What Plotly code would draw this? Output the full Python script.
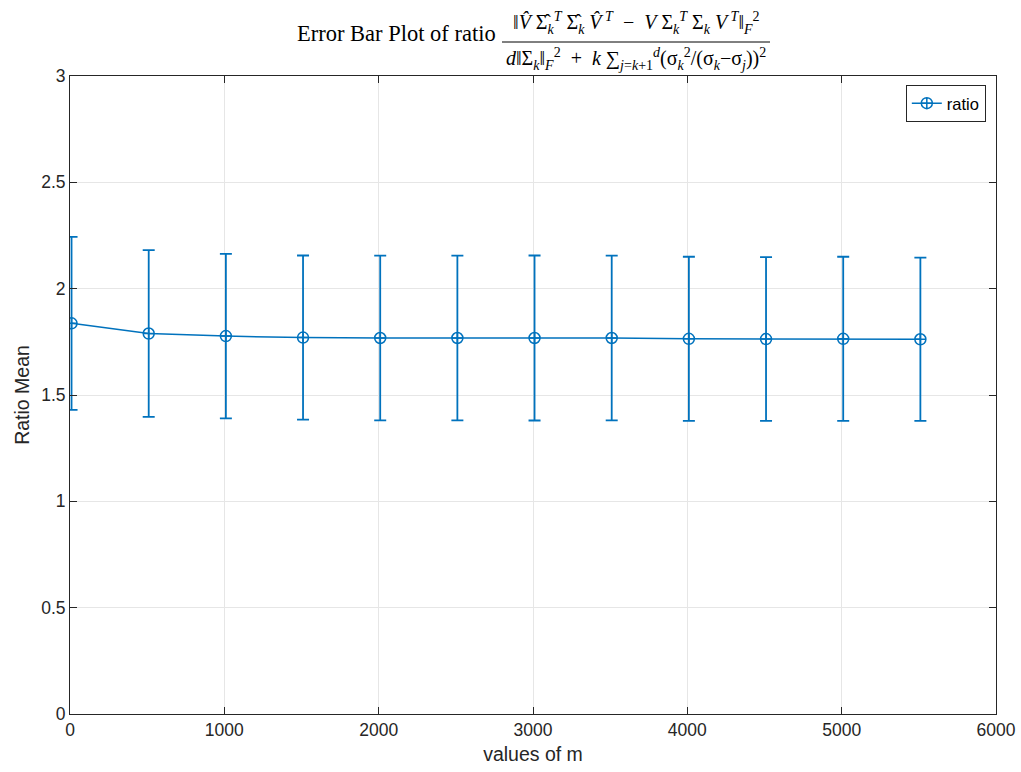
import plotly.graph_objects as go

m_values = [10, 510, 1010, 1510, 2010, 2510, 3010, 3510, 4010, 4510, 5010, 5510]
ratio_mean = [1.837, 1.789, 1.777, 1.770, 1.768, 1.768, 1.768, 1.768, 1.764, 1.763, 1.764, 1.762]
ratio_err = [0.407, 0.392, 0.387, 0.386, 0.387, 0.387, 0.388, 0.387, 0.386, 0.385, 0.386, 0.384]

x_ticks = [0, 1000, 2000, 3000, 4000, 5000, 6000]
y_ticks = [0, 0.5, 1, 1.5, 2, 2.5, 3]
y_tick_labels = ["0", "0.5", "1", "1.5", "2", "2.5", "3"]

blue = "#0072BD"
axis_col = "#262626"
grid_col = "#e6e6e6"
sans = "Liberation Sans, Arial, sans-serif"
serif = "Liberation Serif, DejaVu Serif, serif"

fig = go.Figure()
fig.add_trace(go.Scatter(
    x=m_values, y=ratio_mean, mode="lines+markers", name="ratio",
    line=dict(color=blue, width=1.5),
    marker=dict(symbol="circle-cross-open", size=11, color=blue, line=dict(width=1.5, color=blue)),
    error_y=dict(type="data", array=ratio_err, visible=True, color=blue, thickness=1.8, width=6),
))

axis_common = dict(
    showline=True, linecolor=axis_col, linewidth=1, mirror="ticks",
    ticks="inside", ticklen=7, tickcolor=axis_col,
    showgrid=True, gridcolor=grid_col, gridwidth=1, zeroline=False,
    tickfont=dict(family=sans, size=17.5, color=axis_col),
    automargin=False,
)

fig.update_xaxes(range=[0, 6000], tickvals=x_ticks, ticktext=[str(t) for t in x_ticks],
                 title=dict(text="values of m", font=dict(family=sans, size=19.5, color=axis_col), standoff=8),
                 **axis_common)
fig.update_yaxes(range=[0, 3], tickvals=y_ticks, ticktext=y_tick_labels,
                 title=dict(text="Ratio Mean", font=dict(family=sans, size=19.5, color=axis_col), standoff=6),
                 **axis_common)

num = ("‖<i>V̂</i> Σ̂<sub><i>k</i></sub><sup><i>T</i></sup> Σ̂<sub><i>k</i></sub> <i>V̂</i><sup> <i>T</i></sup>"
       "  −  <i>V</i> Σ<sub><i>k</i></sub><sup><i>T</i></sup> Σ<sub><i>k</i></sub> <i>V</i><sup> <i>T</i></sup>‖<sub><i>F</i></sub><sup>2</sup>")
den = ("<i>d</i>‖Σ<sub><i>k</i></sub>‖<sub><i>F</i></sub><sup>2</sup>  +  <i>k</i> ∑<sub><i>j</i>=<i>k</i>+1</sub><sup><i>d</i></sup>"
       "(σ<sub><i>k</i></sub><sup>2</sup>/(σ<sub><i>k</i></sub>−σ<sub><i>j</i></sub>))<sup>2</sup>")

fig.add_annotation(text="Error Bar Plot of ratio", xref="paper", yref="paper",
                   x=(498 - 70) / 926, y=(714 - 34) / 638, xanchor="right", yanchor="middle",
                   showarrow=False, font=dict(family=serif, size=22.5, color="black"))
fig.add_annotation(text=num, xref="paper", yref="paper",
                   x=(636 - 70) / 926, y=(714 - 39) / 638, xanchor="center", yanchor="bottom",
                   showarrow=False, font=dict(family=serif, size=20, color="black"))
fig.add_annotation(text=den, xref="paper", yref="paper",
                   x=(636 - 70) / 926, y=(714 - 43) / 638, xanchor="center", yanchor="top",
                   showarrow=False, font=dict(family=serif, size=20, color="black"))
fig.add_shape(type="line", xref="paper", yref="paper",
              x0=(502 - 70) / 926, x1=(770 - 70) / 926, y0=(714 - 42) / 638, y1=(714 - 42) / 638,
              line=dict(color="black", width=1))

fig.update_layout(
    width=1021, height=772,
    margin=dict(l=70, r=25, t=76, b=58),
    paper_bgcolor="white", plot_bgcolor="white",
    showlegend=True,
    legend=dict(x=0.989, y=0.986, xanchor="right", yanchor="top",
                bordercolor=axis_col, borderwidth=1, bgcolor="white",
                font=dict(family=sans, size=16.5, color="black"),
                itemwidth=30, tracegroupgap=0),
)

fig.write_html("out.html")
